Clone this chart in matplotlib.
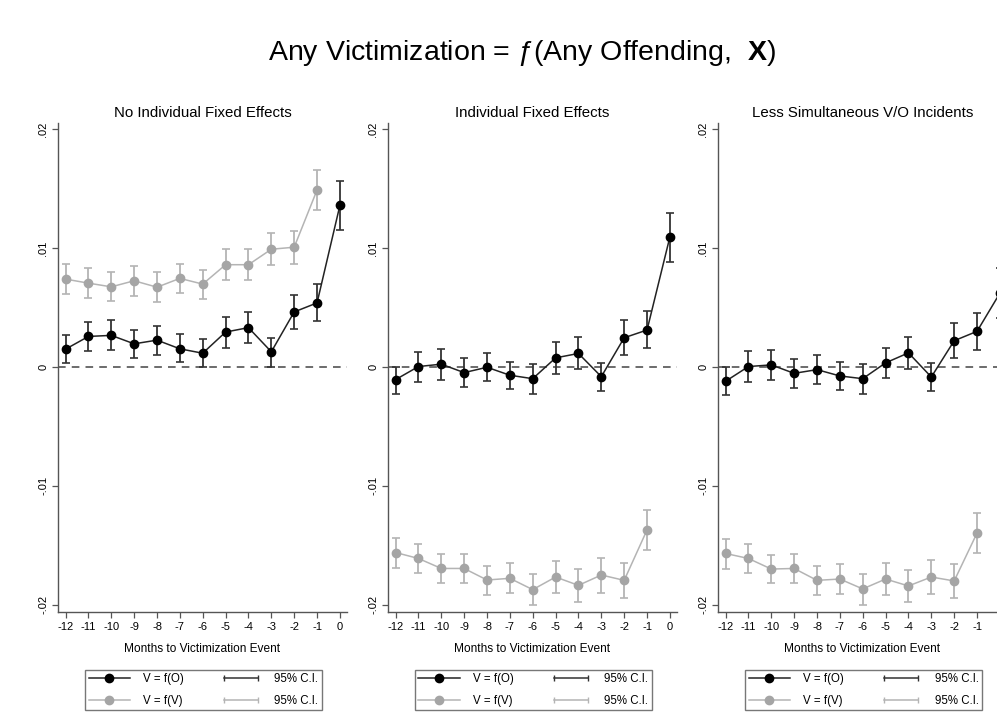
import numpy as np
import matplotlib
matplotlib.use("Agg")
import matplotlib.pyplot as plt
from matplotlib.lines import Line2D
from matplotlib.legend_handler import HandlerLine2D

plt.rcParams["font.family"] = ["Liberation Sans", "DejaVu Sans"]
plt.rcParams["mathtext.fontset"] = "custom"
plt.rcParams["mathtext.rm"] = "Liberation Sans"
plt.rcParams["mathtext.it"] = "Liberation Sans:italic"
plt.rcParams["mathtext.bf"] = "Liberation Sans:bold"

# 데이터
months_o = [-12, -11, -10, -9, -8, -7, -6, -5, -4, -3, -2, -1, 0]
months_v = [-12, -11, -10, -9, -8, -7, -6, -5, -4, -3, -2, -1]
panel_titles = ["No Individual Fixed Effects", "Individual Fixed Effects",
                "Less Simultaneous V/O Incidents"]

# 1. No Individual Fixed Effects
p1_o = [0.00149, 0.00256, 0.00265, 0.00194, 0.00225, 0.00152, 0.00115,
        0.00293, 0.00330, 0.00127, 0.00462, 0.00538, 0.01358]
p1_o_lo = [0.00037, 0.00135, 0.00138, 0.00076, 0.00104, 0.00039, 0.00000,
           0.00163, 0.00197, 0.00000, 0.00315, 0.00383, 0.01152]
p1_o_hi = [0.00265, 0.00375, 0.00392, 0.00310, 0.00346, 0.00273, 0.00231,
           0.00423, 0.00465, 0.00245, 0.00608, 0.00696, 0.01566]
p1_v = [0.00738, 0.00704, 0.00673, 0.00724, 0.00670, 0.00744, 0.00696,
        0.00859, 0.00859, 0.00989, 0.01006, 0.01487]
p1_v_lo = [0.00611, 0.00577, 0.00552, 0.00600, 0.00549, 0.00617, 0.00569,
           0.00730, 0.00730, 0.00854, 0.00868, 0.01321]
p1_v_hi = [0.00865, 0.00828, 0.00794, 0.00848, 0.00794, 0.00868, 0.00814,
           0.00989, 0.00989, 0.01127, 0.01144, 0.01654]

# 2. Individual Fixed Effects
p2_o = [-0.00107, 0.00003, 0.00023, -0.00048, -0.00003, -0.00070, -0.00099,
        0.00076, 0.00113, -0.00082, 0.00245, 0.00310, 0.01093]
p2_o_lo = [-0.00225, -0.00124, -0.00107, -0.00169, -0.00121, -0.00186, -0.00225,
           -0.00056, -0.00020, -0.00203, 0.00096, 0.00155, 0.00885]
p2_o_hi = [0.00000, 0.00127, 0.00152, 0.00076, 0.00118, 0.00045, 0.00023,
           0.00208, 0.00248, 0.00037, 0.00392, 0.00470, 0.01296]
p2_v = [-0.01560, -0.01610, -0.01694, -0.01694, -0.01791, -0.01777, -0.01872,
        -0.01766, -0.01836, -0.01749, -0.01794, -0.01370]
p2_v_lo = [-0.01688, -0.01733, -0.01813, -0.01816, -0.01914, -0.01903, -0.02000,
           -0.01900, -0.01972, -0.01897, -0.01939, -0.01540]
p2_v_hi = [-0.01435, -0.01487, -0.01574, -0.01571, -0.01671, -0.01649, -0.01744,
           -0.01635, -0.01702, -0.01610, -0.01649, -0.01203]

# 3. Less Simultaneous V/O Incidents
p3_o = [-0.00121, 0.00003, 0.00017, -0.00054, -0.00023, -0.00076, -0.00099,
        0.00034, 0.00118, -0.00085, 0.00220, 0.00299, 0.00620]
p3_o_lo = [-0.00240, -0.00124, -0.00110, -0.00175, -0.00146, -0.00192, -0.00225,
           -0.00096, -0.00014, -0.00203, 0.00076, 0.00146, 0.00410]
p3_o_hi = [0.00000, 0.00130, 0.00146, 0.00070, 0.00096, 0.00039, 0.00023,
           0.00163, 0.00254, 0.00037, 0.00366, 0.00454, 0.00830]
p3_v = [-0.01568, -0.01610, -0.01699, -0.01694, -0.01794, -0.01783, -0.01866,
        -0.01783, -0.01841, -0.01766, -0.01799, -0.01396]
p3_v_lo = [-0.01696, -0.01733, -0.01816, -0.01816, -0.01916, -0.01911, -0.01997,
           -0.01914, -0.01975, -0.01911, -0.01944, -0.01563]
p3_v_hi = [-0.01446, -0.01487, -0.01579, -0.01571, -0.01677, -0.01657, -0.01741,
           -0.01649, -0.01708, -0.01624, -0.01655, -0.01228]

yticks = [-0.02, -0.01, 0, 0.01, 0.02]
yticklabels = ["-.02", "-.01", "0", ".01", ".02"]

panels = [
    (p1_o, p1_o_lo, p1_o_hi, p1_v, p1_v_lo, p1_v_hi),
    (p2_o, p2_o_lo, p2_o_hi, p2_v, p2_v_lo, p2_v_hi),
    (p3_o, p3_o_lo, p3_o_hi, p3_v, p3_v_lo, p3_v_hi),
]

W, H = 997, 712
fig = plt.figure(figsize=(W / 100, H / 100), dpi=100)
fig.patch.set_facecolor("white")

lefts = [58, 388, 718]
ax_w = 289
ax_top, ax_bot = 123, 612

black = "#000000"
black_ci = "#333333"
gray = "#a5a5a5"
gray_ci = "#b4b4b4"

for i, (o, olo, ohi, v, vlo, vhi) in enumerate(panels):
    ax = fig.add_axes([lefts[i] / W, 1 - ax_bot / H, ax_w / W, (ax_bot - ax_top) / H])
    o, olo, ohi = np.array(o), np.array(olo), np.array(ohi)
    v, vlo, vhi = np.array(v), np.array(vlo), np.array(vhi)

    ax.axhline(0, color="#444444", lw=1.1, ls=(0, (5, 4)), zorder=1)

    ax.errorbar(months_v, v, yerr=[v - vlo, vhi - v], fmt="none", ecolor=gray_ci,
                elinewidth=1.3, capsize=3, capthick=1.2, zorder=2)
    ax.plot(months_v, v, "-o", color=gray_ci, mfc=gray, mec=gray, ms=6, lw=1.1, zorder=3)

    ax.errorbar(months_o, o, yerr=[o - olo, ohi - o], fmt="none", ecolor=black_ci,
                elinewidth=1.3, capsize=3, capthick=1.2, zorder=4)
    ax.plot(months_o, o, "-o", color="#222222", mfc=black, mec=black, ms=6, lw=1.1, zorder=5)

    ax.set_xlim(-12.33, 0.31)
    ax.set_ylim(-0.0206, 0.0205)
    ax.set_xticks(months_o)
    ax.set_xticklabels([str(m) for m in months_o], fontsize=8)
    ax.set_yticks(yticks)
    ax.set_yticklabels(yticklabels, fontsize=8, rotation=90, va="center")
    for s in ["top", "right"]:
        ax.spines[s].set_visible(False)
    for s in ["left", "bottom"]:
        ax.spines[s].set_color("#555555")
        ax.spines[s].set_linewidth(1.0)
    ax.tick_params(axis="both", color="#555555", length=4, width=0.9, pad=3)
    ax.set_title(panel_titles[i], fontsize=10.8, pad=4)
    ax.set_xlabel("Months to Victimization Event", fontsize=8.6, labelpad=8)

    # 범례
    h_o = Line2D([], [], color="#222222", marker="o", mfc=black, mec=black, ms=6, lw=1.1)
    h_v = Line2D([], [], color=gray_ci, marker="o", mfc=gray, mec=gray, ms=6, lw=1.1)
    c_o = Line2D([], [], color=black_ci, marker="|", ms=5, mew=1, lw=1.1)
    c_v = Line2D([], [], color=gray_ci, marker="|", ms=5, mew=1, lw=1.1)
    cx = (lefts[i] + ax_w / 2 + 1) / W
    leg = ax.legend([h_o, h_v, c_o, c_v], ["V = f(O)", "V = f(V)", "95% C.I.", "95% C.I."],
                    ncol=2, loc="upper center", bbox_to_anchor=(cx, 1 - 670 / H),
                    bbox_transform=fig.transFigure, fontsize=8.3, frameon=True,
                    fancybox=False, edgecolor="#555555", handlelength=3.6,
                    handletextpad=1.1, columnspacing=3.2, labelspacing=0.8,
                    borderpad=0.3, borderaxespad=0,
                    handler_map={c_o: HandlerLine2D(numpoints=2),
                                 c_v: HandlerLine2D(numpoints=2)})
    leg.get_frame().set_linewidth(1.0)

fig.text(522 / W, 1 - 53 / H, r"Any Victimization = ƒ(Any Offending,  $\mathbf{X}$)",
         ha="center", va="center", fontsize=20.5)

fig.savefig("out.png", dpi=100, facecolor="white")
